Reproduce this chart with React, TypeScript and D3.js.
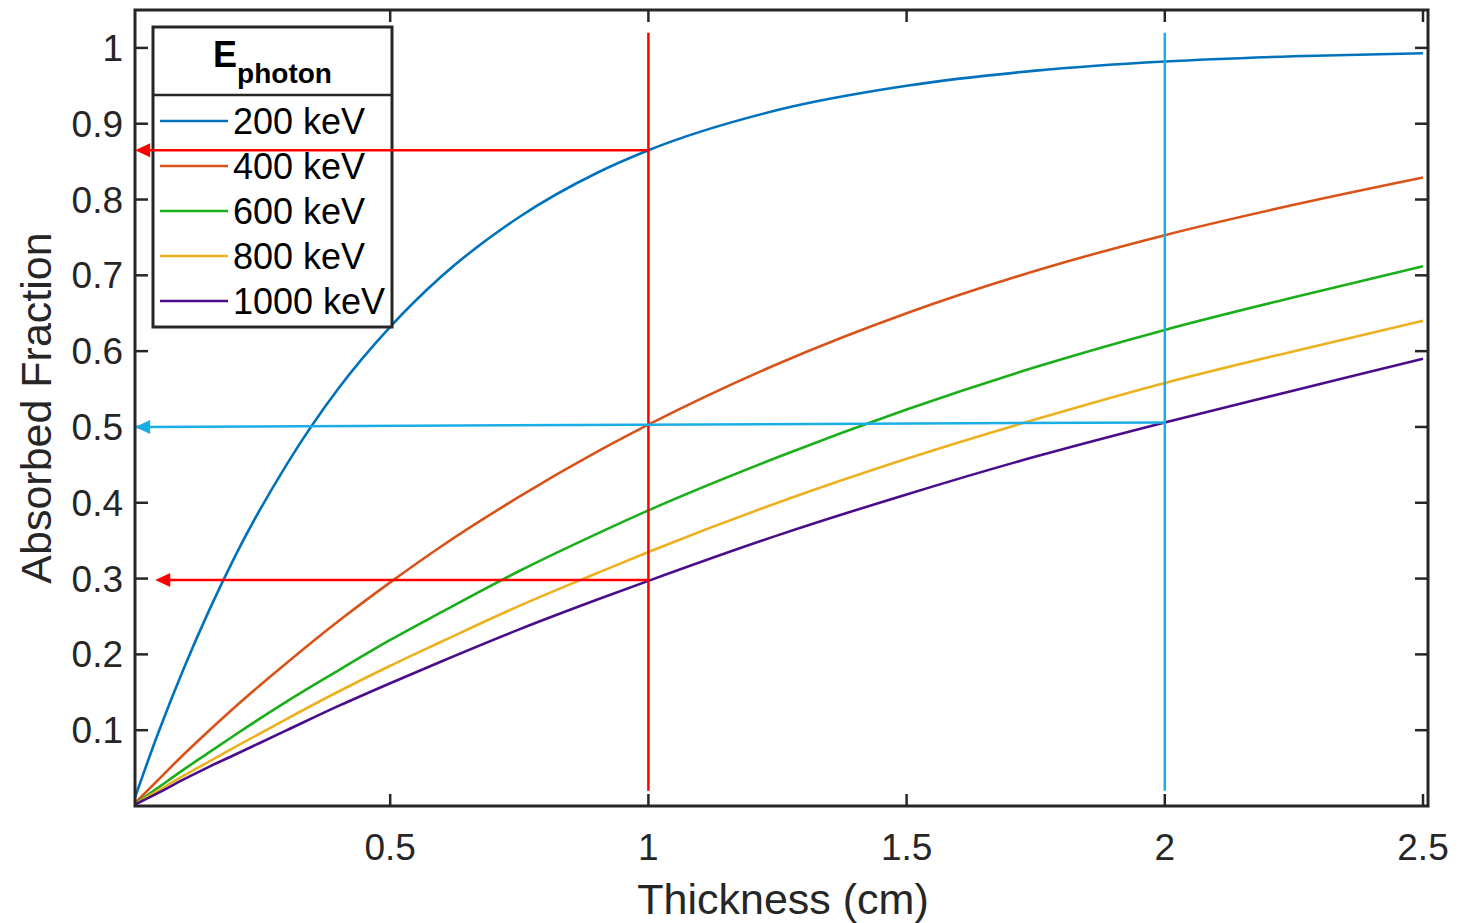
import React from 'react'
import * as d3 from 'd3'

const thickness = [0, 0.05, 0.1, 0.15, 0.2, 0.3, 0.4, 0.5, 0.6, 0.75, 0.9, 1, 1.25, 1.5, 1.75, 2, 2.25, 2.5]
const kev200 = [0, 0.095, 0.181, 0.259, 0.33, 0.451, 0.551, 0.632, 0.699, 0.777, 0.835, 0.865, 0.918, 0.95, 0.97, 0.982, 0.989, 0.993]
const kev400 = [0, 0.034, 0.068, 0.1, 0.131, 0.189, 0.244, 0.295, 0.343, 0.408, 0.467, 0.503, 0.583, 0.65, 0.706, 0.753, 0.793, 0.829]
const kev600 = [0, 0.024, 0.048, 0.071, 0.094, 0.138, 0.179, 0.219, 0.256, 0.31, 0.359, 0.39, 0.46, 0.523, 0.579, 0.628, 0.671, 0.712]
const kev800 = [0, 0.02, 0.04, 0.059, 0.078, 0.115, 0.151, 0.185, 0.217, 0.264, 0.307, 0.335, 0.4, 0.458, 0.51, 0.558, 0.6, 0.64]
const kev1000 = [0, 0.017, 0.035, 0.052, 0.068, 0.1, 0.132, 0.162, 0.191, 0.233, 0.272, 0.297, 0.357, 0.411, 0.461, 0.506, 0.548, 0.59]

const seriesNames = ['200 keV', '400 keV', '600 keV', '800 keV', '1000 keV']
const seriesValues = [kev200, kev400, kev600, kev800, kev1000]
const colors = ['#0072BD', '#D95319', '#1AAF1A', '#EDB120', '#4B0C8C']

const xTicks = [0.5, 1, 1.5, 2, 2.5]
const yTicks = [0.1, 0.2, 0.3, 0.4, 0.5, 0.6, 0.7, 0.8, 0.9, 1]

// guide lines: [x1, y1, x2, y2]
const redVertical = [1, 0.02, 1, 1.02]
const cyanVertical = [2, 0.02, 2, 1.02]
const redArrowTop = [1, 0.865, 0.006, 0.865]
const cyanArrow = [2, 0.506, 0.006, 0.5]
const redArrowBottom = [1, 0.298, 0.045, 0.298]

const font = '"Liberation Sans", Arial, sans-serif'
const axisColor = '#262626'

export default function App() {
  const left = 135
  const right = 1428
  const top = 10
  const bottom = 806

  const x = d3.scaleLinear().domain([0, 2.5]).range([132, 1423])
  const y = d3.scaleLinear().domain([0, 1.05]).range([bottom, top])

  const line = d3.line<number>()
    .x((_, i) => x(thickness[i]))
    .y(d => y(d))
    .curve(d3.curveMonotoneX)

  const arrow = (seg: number[], color: string, key: string) => {
    const x1 = x(seg[0]), y1 = y(seg[1]), x2 = x(seg[2]), y2 = y(seg[3])
    const hl = 15, hw = 7
    return (
      <g key={key}>
        <line x1={x1} y1={y1} x2={x2 + hl - 2} y2={y2} stroke={color} strokeWidth={2.5} />
        <path d={`M${x2},${y2} L${x2 + hl},${y2 - hw} L${x2 + hl},${y2 + hw} Z`} fill={color} />
      </g>
    )
  }

  const vline = (seg: number[], color: string) => (
    <line x1={x(seg[0])} y1={y(seg[1])} x2={x(seg[2])} y2={y(seg[3])} stroke={color} strokeWidth={2.5} />
  )

  const lgX = 153, lgY = 27, lgW = 239, lgH = 300, lgDiv = 95

  return (
    <svg width={1473} height={923} style={{ position: 'absolute', left: 0, top: 0, background: '#fff' }}>
      <defs>
        <clipPath id="plot">
          <rect x={left} y={top} width={right - left} height={bottom - top} />
        </clipPath>
      </defs>
      <rect x={0} y={0} width={1473} height={923} fill="#fff" />

      <g clipPath="url(#plot)">
        {seriesValues.map((vals, i) => (
          <path key={seriesNames[i]} d={line(vals) ?? ''} fill="none" stroke={colors[i]} strokeWidth={2.6} />
        ))}
      </g>

      {vline(redVertical, '#FF0000')}
      {vline(cyanVertical, '#19AEE8')}

      {/* ticks */}
      {xTicks.map(t => (
        <g key={'xt' + t}>
          <line x1={x(t)} x2={x(t)} y1={bottom} y2={bottom - 12} stroke={axisColor} strokeWidth={2.5} />
          <line x1={x(t)} x2={x(t)} y1={top} y2={top + 12} stroke={axisColor} strokeWidth={2.5} />
          <text x={x(t)} y={860} textAnchor="middle" fontFamily={font} fontSize={37} fill={axisColor}>{t}</text>
        </g>
      ))}
      {yTicks.map(t => (
        <g key={'yt' + t}>
          <line x1={left} x2={left + 13} y1={y(t)} y2={y(t)} stroke={axisColor} strokeWidth={2.5} />
          <line x1={right} x2={right - 13} y1={y(t)} y2={y(t)} stroke={axisColor} strokeWidth={2.5} />
          <text x={123} y={y(t) + 13} textAnchor="end" fontFamily={font} fontSize={37} fill={axisColor}>{t}</text>
        </g>
      ))}

      <rect x={left} y={top} width={right - left} height={bottom - top} fill="none" stroke={axisColor} strokeWidth={3} />

      <text x={783} y={914} textAnchor="middle" fontFamily={font} fontSize={43} fill={axisColor}>Thickness (cm)</text>
      <text transform={`translate(51, 408) rotate(-90)`} textAnchor="middle" fontFamily={font} fontSize={43} fill={axisColor}>Absorbed Fraction</text>

      {/* legend */}
      <g>
        <rect x={lgX} y={lgY} width={lgW} height={lgH} fill="#fff" stroke={axisColor} strokeWidth={3} />
        <line x1={lgX} x2={lgX + lgW} y1={lgDiv} y2={lgDiv} stroke={axisColor} strokeWidth={2.5} />
        <text x={lgX + lgW / 2} y={67} textAnchor="middle" fontFamily={font} fontWeight="bold" fill="#000">
          <tspan fontSize={36}>E</tspan>
          <tspan fontSize={28} dy={16}>photon</tspan>
        </text>
        {seriesNames.map((name, i) => {
          const cy = 121 + i * 45
          return (
            <g key={name}>
              <line x1={160} x2={228} y1={cy} y2={cy} stroke={colors[i]} strokeWidth={2.6} />
              <text x={233} y={cy + 13} fontFamily={font} fontSize={36} fill="#000">{name}</text>
            </g>
          )
        })}
      </g>

      {/* arrows drawn over the legend */}
      {arrow(redArrowTop, '#FF0000', 'ra1')}
      {arrow(cyanArrow, '#19AEE8', 'ca')}
      {arrow(redArrowBottom, '#FF0000', 'ra2')}
    </svg>
  )
}
